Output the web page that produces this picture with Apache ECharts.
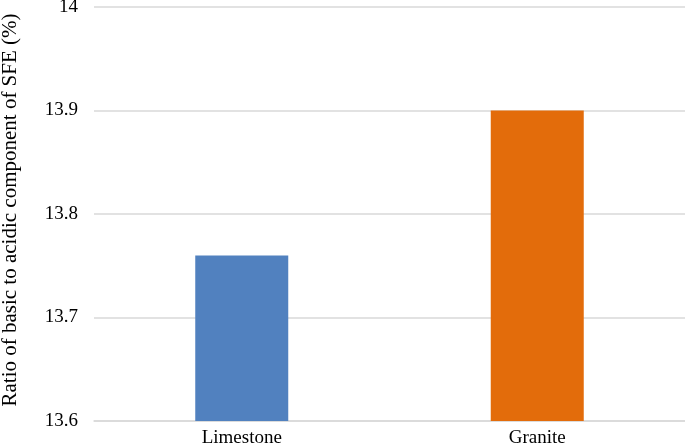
<!DOCTYPE html>
<html>
<head>
<meta charset="utf-8">
<script src="https://cdn.jsdelivr.net/npm/echarts@6/dist/echarts.min.js"></script>
<style>
  html, body { margin: 0; padding: 0; background: #fff; }
  #chart { width: 685px; height: 448px; }
</style>
</head>
<body>
<div id="chart"></div>
<script>
// 数据
const categories = ["Limestone", "Granite"];
const ratioValues = [13.76, 13.9];
const barColors = ["#5181bf", "#e36c0b"];

const myChart = echarts.init(document.getElementById("chart"));
myChart.setOption({
  animation: false,
  textStyle: { fontFamily: "Liberation Serif" },
  grid: {
    left: 94,
    right: 0,
    top: 7,
    bottom: 27,
    containLabel: false,
    outerBoundsMode: "none",
  },
  xAxis: {
    type: "category",
    data: categories,
    axisTick: { show: false },
    axisLine: { lineStyle: { color: "#d9d9d9", width: 1.5 } },
    axisLabel: { color: "#000", fontSize: 19, margin: 8, fontFamily: "Liberation Serif" },
  },
  yAxis: {
    type: "value",
    min: 13.6,
    max: 14,
    interval: 0.1,
    name: "Ratio of basic to acidic component of SFE (%)",
    nameLocation: "middle",
    nameGap: 73,
    nameTextStyle: { color: "#000", fontSize: 21, fontFamily: "Liberation Serif", padding: [0, 0, 0, 8] },
    axisLine: { show: false },
    axisTick: { show: false },
    axisLabel: {
      color: "#000",
      fontSize: 19,
      margin: 16,
      fontFamily: "Liberation Serif",
      formatter: function (v) { return +v.toFixed(1) + ""; },
    },
    splitLine: { lineStyle: { color: "#d9d9d9", width: 1.5 } },
  },
  series: [
    {
      type: "bar",
      barWidth: 93,
      data: ratioValues.map(function (v, i) {
        return { value: v, itemStyle: { color: barColors[i] } };
      }),
    },
  ],
});
</script>
</body>
</html>
